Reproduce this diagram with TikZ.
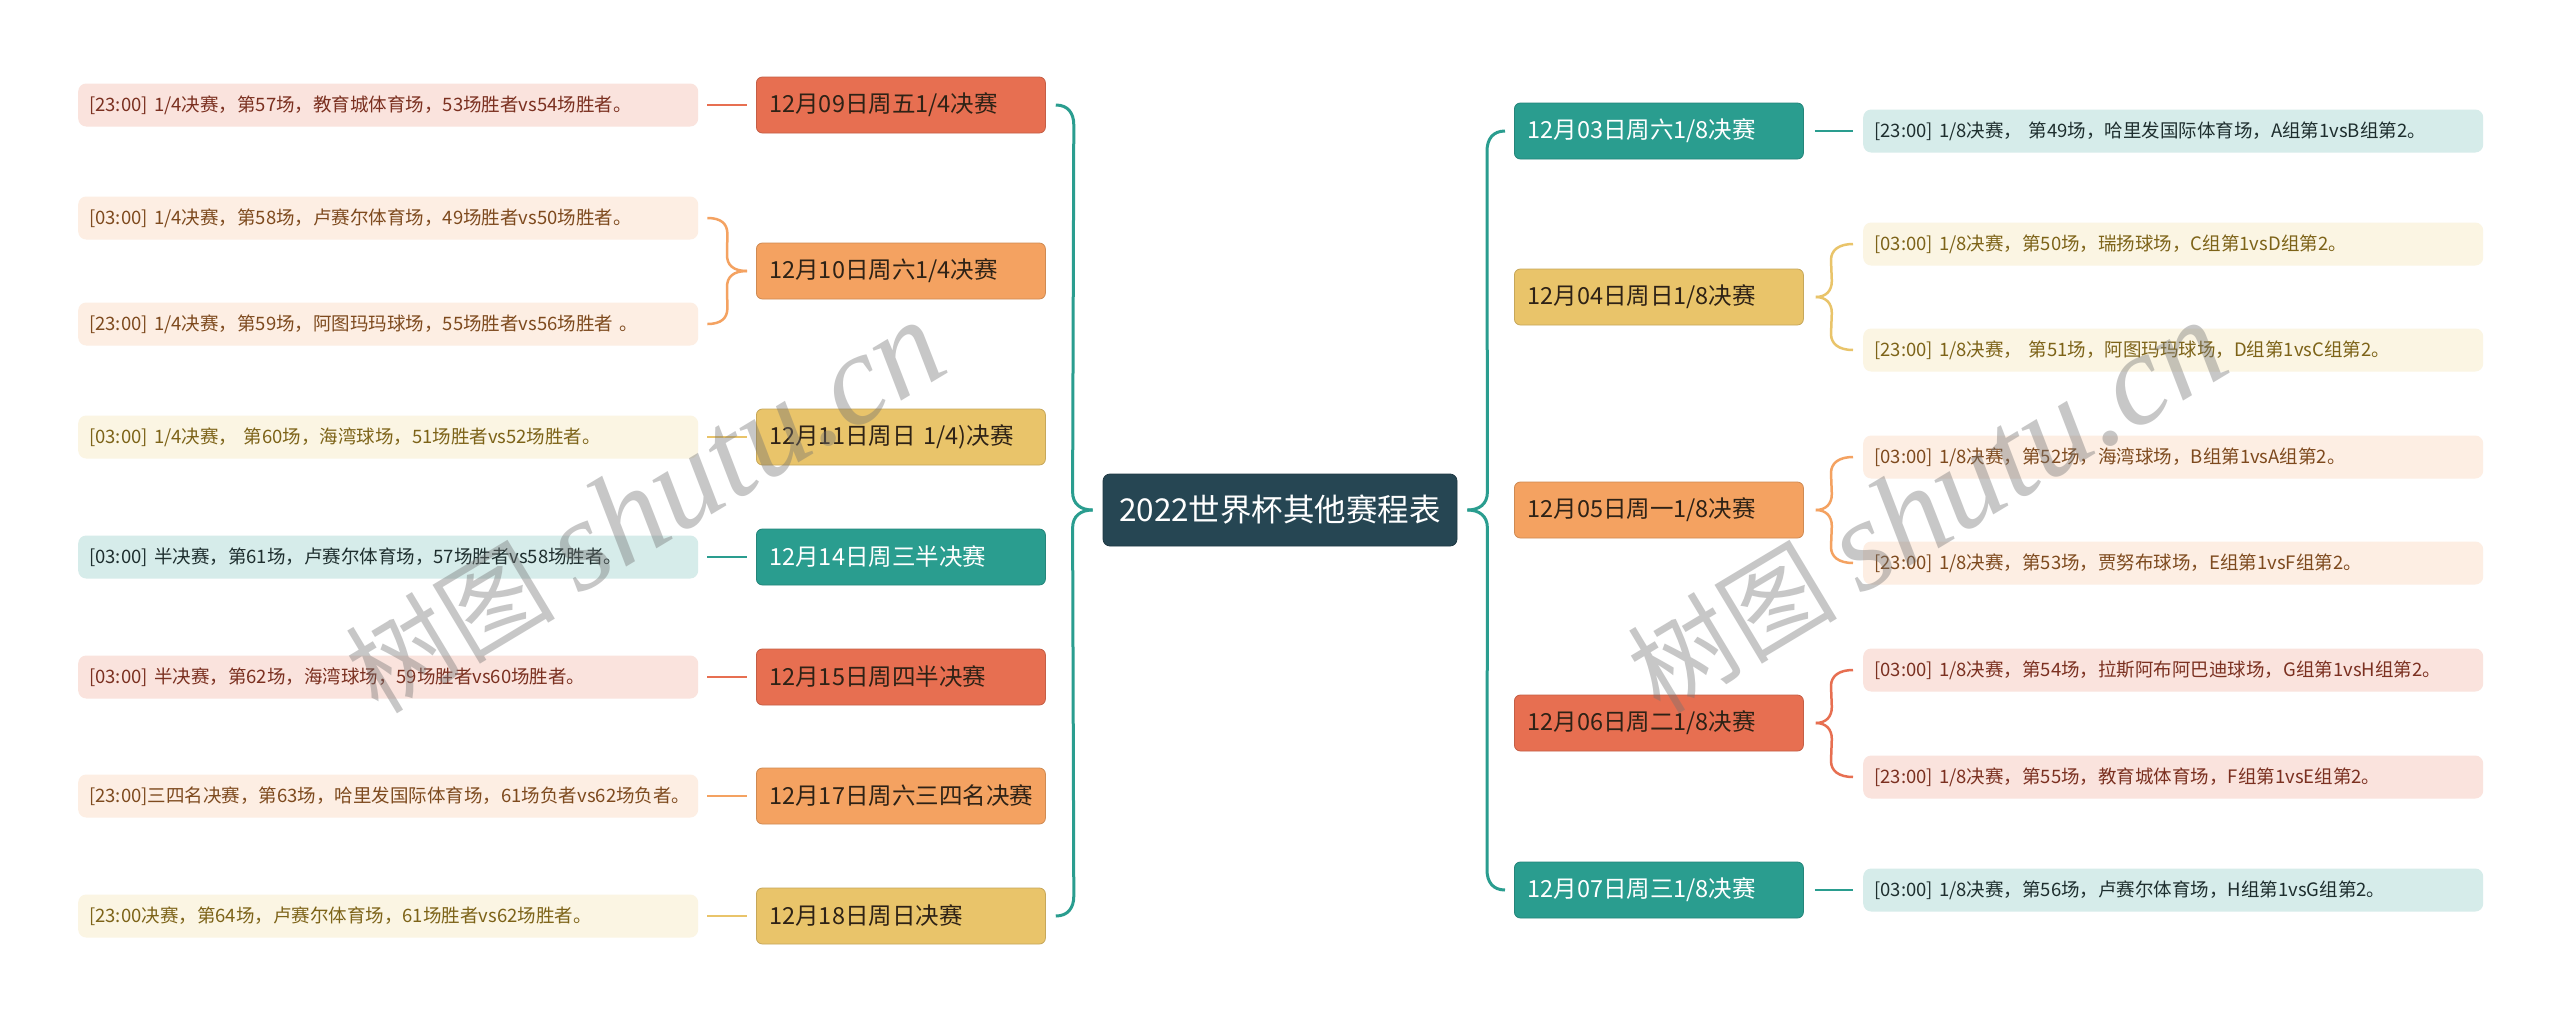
\documentclass[tikz,border=0pt]{standalone}
\usepackage{fontspec}
\setmainfont{Noto Sans CJK SC}
\newfontfamily\wmlatin{Liberation Serif}
\usetikzlibrary{calc}
\definecolor{cTeal}{HTML}{2A9D8F}
\definecolor{cYel}{HTML}{E9C46A}
\definecolor{cOra}{HTML}{F4A261}
\definecolor{cRed}{HTML}{E76F51}
\definecolor{cDark}{HTML}{264653}
\definecolor{lTeal}{HTML}{D6ECEA}
\definecolor{lYel}{HTML}{FBF5E3}
\definecolor{lOra}{HTML}{FDEEE3}
\definecolor{lRed}{HTML}{FAE3DD}
\definecolor{tTeal}{HTML}{1E2E2E}
\definecolor{tYel}{HTML}{7D6318}
\definecolor{tOra}{HTML}{7E4A1E}
\definecolor{tRed}{HTML}{7B3020}
\definecolor{tNode}{HTML}{2E2216}
% left brace: #1 leaf, #2 node, #3 colour, #4 = 16 (leaf above) or -16 (leaf below), #5 = 10 or -10
\newcommand\BrL[5]{%
  \draw[con=#3] ($(#1.east)+(9,0)$) .. controls +(14,0) and +(0,-#5) ..
    ($(#1.east)+(29,#4)$) -- ($(#2.west)+(-29,-#4)$)
    .. controls +(0,#5) and +(-14,0) .. ($(#2.west)+(-9,0)$);}
% right brace
\newcommand\BrR[5]{%
  \draw[con=#3] ($(#2.east)+(12,0)$) .. controls +(10,0) and +(0,#5) ..
    ($(#2.east)+(28,-#4)$) -- ($(#1.west)+(-32,#4)$)
    .. controls +(0,-#5) and +(-14,0) .. ($(#1.west)+(-10,0)$);}
\begin{document}
\begin{tikzpicture}[x=1pt,y=-1pt,
  lvl/.style={rounded corners=6pt, minimum height=56pt, text width=263pt,
    inner xsep=13pt, inner ysep=0pt, align=left, anchor=west,
    font=\fontsize{23.5}{28}\selectfont, draw=c#1!85!black, line width=0.8pt,
    fill=c#1, text=tNode},
  leaf/.style={rounded corners=8pt, minimum height=43pt, text width=598pt,
    inner xsep=11pt, inner ysep=0pt, align=left, anchor=west,
    font=\fontsize{18.5}{22}\selectfont, fill=l#1, text=t#1},
  con/.style={draw=c#1, line width=2.5pt},
  mainbr/.style={draw=cTeal, line width=3pt},
  wm/.style={rotate=31, text=black!55, opacity=0.4, inner sep=0pt}
]
\useasboundingbox[fill=white] (0,0) rectangle (2560,1021);

% centre
\node[rounded corners=7pt, fill=cDark, draw=cDark!80!black, line width=0.8pt,
  minimum width=354pt, minimum height=72pt, text=white,
  font=\fontsize{31.5}{36}\selectfont] (c) at (1280,510) {2022世界杯其他赛程表};

% left first-level nodes
\node[lvl=Red] (n1) at (756,105) {12月09日周五1/4决赛};
\node[lvl=Ora] (n2) at (756,271) {12月10日周六1/4决赛};
\node[lvl=Yel] (n3) at (756,437) {12月11日周日 1/4)决赛};
\node[lvl=Teal, text=white] (n4) at (756,557) {12月14日周三半决赛};
\node[lvl=Red] (n5) at (756,677) {12月15日周四半决赛};
\node[lvl=Ora] (n6) at (756,796) {12月17日周六三四名决赛};
\node[lvl=Yel] (n7) at (756,916) {12月18日周日决赛};

% left leaves
\node[leaf=Red] (a1) at (78,105) {[23:00] 1/4决赛，第57场，教育城体育场，53场胜者vs54场胜者。};
\node[leaf=Ora] (a2) at (78,218) {[03:00] 1/4决赛，第58场，卢赛尔体育场，49场胜者vs50场胜者。};
\node[leaf=Ora] (a3) at (78,324) {[23:00] 1/4决赛，第59场，阿图玛玛球场，55场胜者vs56场胜者 。};
\node[leaf=Yel] (a4) at (78,437) {[03:00] 1/4决赛， 第60场，海湾球场，51场胜者vs52场胜者。};
\node[leaf=Teal] (a5) at (78,557) {[03:00] 半决赛，第61场，卢赛尔体育场，57场胜者vs58场胜者。};
\node[leaf=Red] (a6) at (78,677) {[03:00] 半决赛，第62场，海湾球场，59场胜者vs60场胜者。};
\node[leaf=Ora] (a7) at (78,796) {[23:00]三四名决赛，第63场，哈里发国际体育场，61场负者vs62场负者。};
\node[leaf=Yel] (a8) at (78,916) {[23:00决赛，第64场，卢赛尔体育场，61场胜者vs62场胜者。};

% right first-level nodes
\node[lvl=Teal, text=white] (r1) at (1514,131) {12月03日周六1/8决赛};
\node[lvl=Yel] (r2) at (1514,297) {12月04日周日1/8决赛};
\node[lvl=Ora] (r3) at (1514,510) {12月05日周一1/8决赛};
\node[lvl=Red] (r4) at (1514,723) {12月06日周二1/8决赛};
\node[lvl=Teal, text=white] (r5) at (1514,890) {12月07日周三1/8决赛};

% right leaves
\node[leaf=Teal] (b1) at (1863,131) {[23:00] 1/8决赛， 第49场，哈里发国际体育场，A组第1vsB组第2。};
\node[leaf=Yel] (b2) at (1863,244) {[03:00] 1/8决赛，第50场，瑞扬球场，C组第1vsD组第2。};
\node[leaf=Yel] (b3) at (1863,350) {[23:00] 1/8决赛， 第51场，阿图玛玛球场，D组第1vsC组第2。};
\node[leaf=Ora] (b4) at (1863,457) {[03:00] 1/8决赛，第52场，海湾球场，B组第1vsA组第2。};
\node[leaf=Ora] (b5) at (1863,563) {[23:00] 1/8决赛，第53场，贾努布球场，E组第1vsF组第2。};
\node[leaf=Red] (b6) at (1863,670) {[03:00] 1/8决赛，第54场，拉斯阿布阿巴迪球场，G组第1vsH组第2。};
\node[leaf=Red] (b7) at (1863,777) {[23:00] 1/8决赛，第55场，教育城体育场，F组第1vsE组第2。};
\node[leaf=Teal] (b8) at (1863,890) {[03:00] 1/8决赛，第56场，卢赛尔体育场，H组第1vsG组第2。};

% main left brace
\draw[mainbr] ($(n1.east)+(10,0)$) .. controls +(12,0) and +(0,-12) .. ($(n1.east)+(28,20)$)
  -- ($(c.west)+(-30,-18)$) .. controls +(0,12) and +(-12,0) .. ($(c.west)+(-10,0)$);
\draw[mainbr] ($(n7.east)+(10,0)$) .. controls +(12,0) and +(0,12) .. ($(n7.east)+(28,-20)$)
  -- ($(c.west)+(-30,18)$) .. controls +(0,-12) and +(-12,0) .. ($(c.west)+(-10,0)$);
% main right brace
\draw[mainbr] ($(c.east)+(10,0)$) .. controls +(12,0) and +(0,12) .. ($(c.east)+(30,-18)$)
  -- ($(r1.west)+(-27,20)$) .. controls +(0,-12) and +(-12,0) .. ($(r1.west)+(-9,0)$);
\draw[mainbr] ($(c.east)+(10,0)$) .. controls +(12,0) and +(0,-12) .. ($(c.east)+(30,18)$)
  -- ($(r5.west)+(-27,-20)$) .. controls +(0,12) and +(-12,0) .. ($(r5.west)+(-9,0)$);

% left leaf connectors
\draw[con=Red] ($(a1.east)+(9,0)$) -- ($(n1.west)+(-9,0)$);
\BrL{a2}{n2}{Ora}{16}{10}
\BrL{a3}{n2}{Ora}{-16}{-10}
\draw[con=Yel] ($(a4.east)+(9,0)$) -- ($(n3.west)+(-9,0)$);
\draw[con=Teal] ($(a5.east)+(9,0)$) -- ($(n4.west)+(-9,0)$);
\draw[con=Red] ($(a6.east)+(9,0)$) -- ($(n5.west)+(-9,0)$);
\draw[con=Ora] ($(a7.east)+(9,0)$) -- ($(n6.west)+(-9,0)$);
\draw[con=Yel] ($(a8.east)+(9,0)$) -- ($(n7.west)+(-9,0)$);

% right leaf connectors
\draw[con=Teal] ($(r1.east)+(11,0)$) -- ($(b1.west)+(-10,0)$);
\BrR{b2}{r2}{Yel}{16}{10}
\BrR{b3}{r2}{Yel}{-16}{-10}
\BrR{b4}{r3}{Ora}{16}{10}
\BrR{b5}{r3}{Ora}{-16}{-10}
\BrR{b6}{r4}{Red}{16}{10}
\BrR{b7}{r4}{Red}{-16}{-10}
\draw[con=Teal] ($(r5.east)+(11,0)$) -- ($(b8.west)+(-10,0)$);

% watermarks
\node[wm] (w1) at (645,508) {\fontsize{105}{110}\selectfont 树图 {\wmlatin\itshape\fontsize{130}{135}\selectfont shutu.cn}};
\node[wm] (w2) at (1927,508) {\fontsize{105}{110}\selectfont 树图 {\wmlatin\itshape\fontsize{130}{135}\selectfont shutu.cn}};
\end{tikzpicture}
\end{document}
